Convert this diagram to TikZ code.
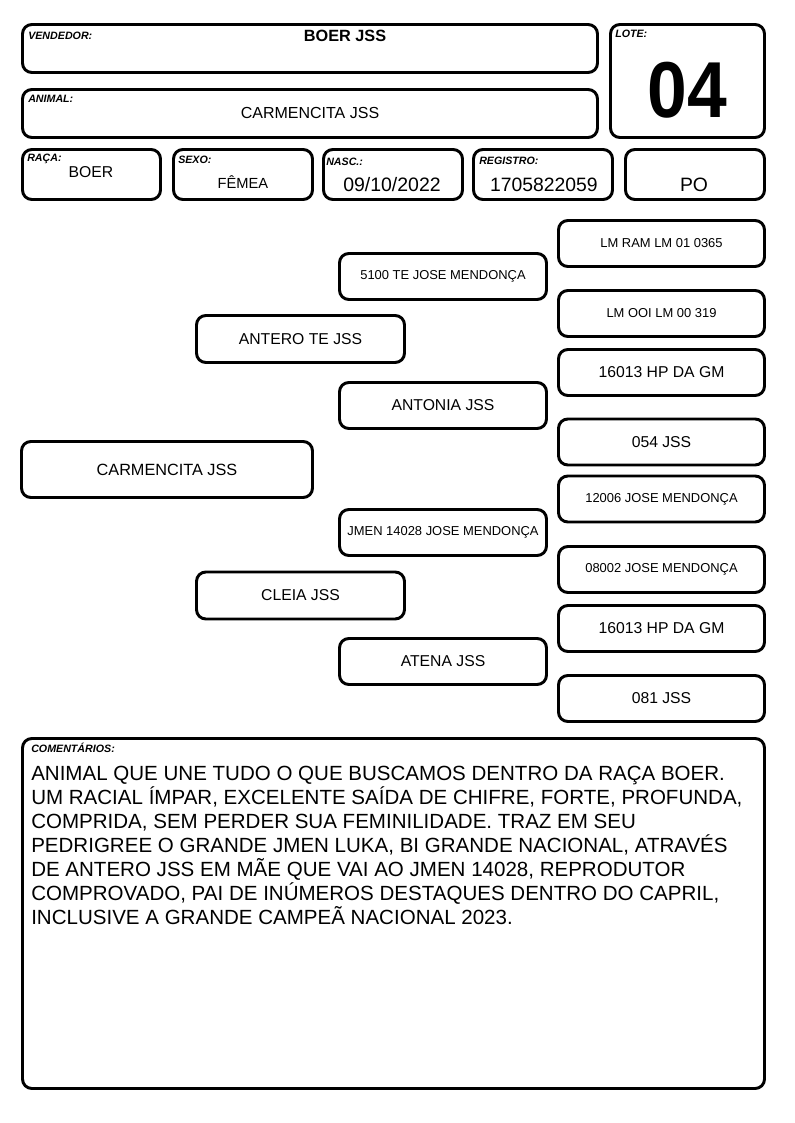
\documentclass[tikz,border=0pt]{standalone}
\usepackage{fontspec}
\setmainfont{Liberation Sans}
\usepackage{tikz}
\usetikzlibrary{positioning}

\begin{document}
\begin{tikzpicture}[x=0.75pt, y=-0.75pt,
    card/.style={draw, line width=2.2pt, rounded corners=7pt, inner sep=0pt},
    hdr/.style={card, minimum width=431.25pt, minimum height=36pt},
    small/.style={card, minimum width=104.25pt, minimum height=37.5pt},
    gen1/.style={card, minimum width=156pt, minimum height=35.25pt, font=\fontsize{11.8}{12}\selectfont},
    gen2/.style={card, minimum width=155.25pt, minimum height=34.5pt},
    gen3/.style={card, minimum width=154.5pt, minimum height=34.5pt},
    tiny/.style={font=\fontsize{9.7}{11}\selectfont},
    mid/.style={font=\fontsize{11.8}{12}\selectfont},
    lbl/.style={anchor=base west, inner sep=0pt, font=\fontsize{8}{9}\selectfont\bfseries\itshape},
    val/.style={anchor=base, inner sep=0pt}]
  \useasboundingbox[fill=white] (0,0) rectangle (794,1123);
  % header boxes
  \node[hdr] (vend) at (310,48.5) {};
    \node[lbl] (vendl) at (28,39.5) {VENDEDOR:};
    \node[val, font=\fontsize{12.2}{13}\selectfont\bfseries] (vendv) at (345,42) {BOER JSS};
  \node[hdr] (anim) at (310,113.5) {};
    \node[lbl] (animl) at (28,103) {ANIMAL:};
    \node[val, font=\fontsize{12}{13}\selectfont] (animv) at (310,119) {CARMENCITA JSS};
  \node[card, minimum width=115.5pt, minimum height=84.75pt] (lote) at (687.5,81) {};
    \node[lbl] (lotel) at (615,38) {LOTE:};
    \node[val, font=\fontsize{59.5}{60}\selectfont\bfseries] (lotev) at (687.5,118) {\scalebox{0.9}[1]{04}};
  % second row
  \node[small, minimum width=103.5pt] (raca) at (91.5,174.5) {};
    \node[lbl] (racal) at (27,162) {RAÇA:};
    \node[val, mid] (racav) at (91,178) {BOER};
  \node[small] (sexo) at (243,174.5) {};
    \node[lbl] (sexol) at (178,164) {SEXO:};
    \node[val, font=\fontsize{11}{12}\selectfont] (sexov) at (243,189) {FÊMEA};
  \node[small] (nasc) at (393,174.5) {};
    \node[lbl] (nascl) at (326,166) {NASC.:};
    \node[val, font=\fontsize{14.6}{15}\selectfont] (nascv) at (392,192) {09/10/2022};
  \node[small] (reg) at (543,174.5) {};
    \node[lbl] (regl) at (479,165) {REGISTRO:};
    \node[val, font=\fontsize{14.5}{15}\selectfont] (regv) at (544,192) {1705822059};
  \node[small] (po) at (695,174.5) {};
    \node[val, font=\fontsize{14.5}{15}\selectfont] (pov) at (694,192) {PO};
  % pedigree
  \node[card, minimum width=218.25pt, minimum height=42pt, font=\fontsize{12.2}{13}\selectfont] (self) at (167,469.5) {CARMENCITA JSS};
  \node[gen1] (sire) at (300.5,339) {ANTERO TE JSS};
  \node[gen1] (dam) at (300.5,595.5) {CLEIA JSS};
  \node[gen2, tiny] (ss) at (443,276.5) {5100 TE JOSE MENDONÇA};
  \node[gen2, mid] (sd) at (443,405.5) {ANTONIA JSS};
  \node[gen2, tiny] (ds) at (443,532.5) {JMEN 14028 JOSE MENDONÇA};
  \node[gen2, mid] (dd) at (443,661.5) {ATENA JSS};
  \node[gen3, tiny] (sss) at (661.5,243.5) {LM RAM LM 01 0365};
  \node[gen3, tiny] (ssd) at (661.5,313.5) {LM OOI LM 00 319};
  \node[gen3, mid] (sds) at (661.5,372.5) {16013 HP DA GM};
  \node[gen3, mid] (sdd) at (661.5,442) {054 JSS};
  \node[gen3, tiny] (dss) at (661.5,499) {12006 JOSE MENDONÇA};
  \node[gen3, tiny] (dsd) at (661.5,569.5) {08002 JOSE MENDONÇA};
  \node[gen3, mid] (dds) at (661.5,628.5) {16013 HP DA GM};
  \node[gen3, mid] (ddd) at (661.5,698.5) {081 JSS};
  % comments
  \node[card, minimum width=556.5pt, minimum height=262.5pt] (com) at (393.5,913.5) {};
    \node[lbl] (coml) at (31,752) {COMENTÁRIOS:};
    \node[anchor=north west, inner sep=0pt, align=left, font=\fontsize{15.4}{18}\selectfont] (comv) at (31,766)
      {ANIMAL QUE UNE TUDO O QUE BUSCAMOS DENTRO DA RAÇA BOER.\\
       UM RACIAL ÍMPAR, EXCELENTE SAÍDA DE CHIFRE, FORTE, PROFUNDA,\\
       COMPRIDA, SEM PERDER SUA FEMINILIDADE. TRAZ EM SEU\\
       PEDRIGREE O GRANDE JMEN LUKA, BI GRANDE NACIONAL, ATRAVÉS\\
       DE ANTERO JSS EM MÃE QUE VAI AO JMEN 14028, REPRODUTOR\\
       COMPROVADO, PAI DE INÚMEROS DESTAQUES DENTRO DO CAPRIL,\\
       INCLUSIVE A GRANDE CAMPEÃ NACIONAL 2023.};
\end{tikzpicture}
\end{document}
